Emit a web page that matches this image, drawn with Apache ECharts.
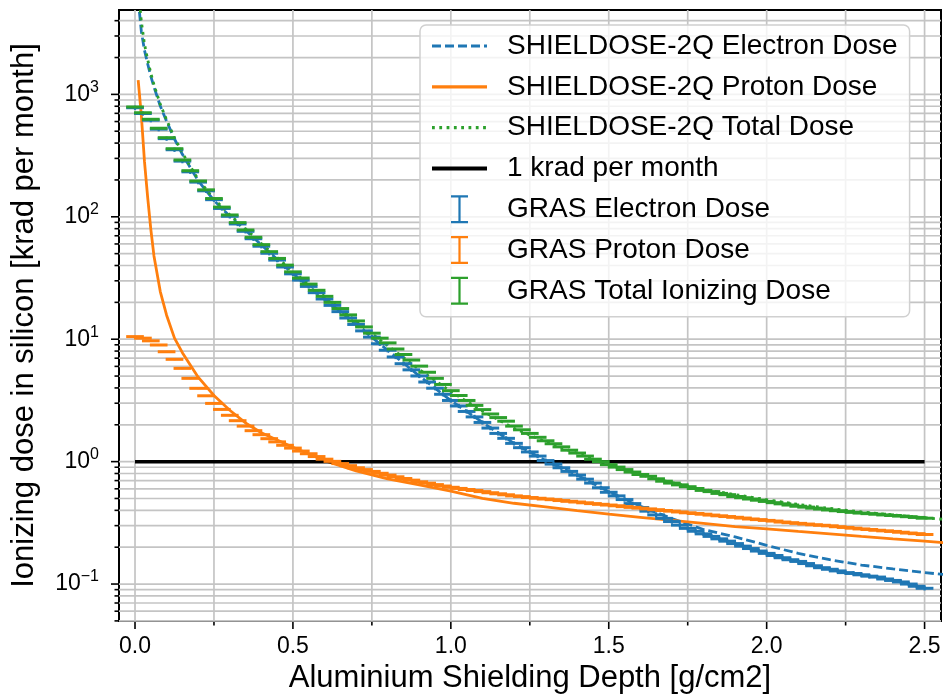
<!DOCTYPE html>
<html>
<head>
<meta charset="utf-8">
<title>Ionizing dose vs aluminium shielding</title>
<script src="https://cdn.jsdelivr.net/npm/echarts@6.0.0/dist/echarts.min.js"></script>
<style>
html, body { margin: 0; padding: 0; background: #fff; }
#main { width: 945px; height: 696px; }
</style>
</head>
<body>
<div id="main"></div>
<script>
// SHIELDOSE-2Q curves [g/cm2] -> [krad per month]
var sdDepth = [0.01, 0.02, 0.03, 0.04, 0.05, 0.06, 0.08, 0.1, 0.125, 0.15, 0.2, 0.25, 0.3, 0.35, 0.4,
  0.5, 0.6, 0.7, 0.8, 0.9, 1.0, 1.1, 1.2, 1.3, 1.4, 1.5, 1.6, 1.7, 1.8, 1.9, 2.0, 2.1, 2.2, 2.3, 2.4, 2.5, 2.6];
var sdElectron = [6030, 3270, 2290, 1780, 1410, 1150, 804, 603, 432, 324, 197, 136, 101, 77.6, 58.9,
  34.3, 21.4, 13.2, 8.13, 5.01, 3.16, 2.09, 1.41, 1.02, 0.776, 0.569, 0.432, 0.343, 0.279, 0.243, 0.207,
  0.178, 0.158, 0.143, 0.133, 0.124, 0.117];
var sdProton = [1310, 676, 282, 145, 79.4, 47.9, 24.5, 15.7, 10.2, 7.76, 4.90, 3.47, 2.63, 2.07, 1.72,
  1.31, 1.02, 0.841, 0.724, 0.646, 0.575, 0.501, 0.457, 0.427, 0.398, 0.372, 0.351, 0.331, 0.313, 0.295,
  0.282, 0.269, 0.257, 0.245, 0.234, 0.224, 0.214];
var sdTotal = [7340, 3950, 2570, 1930, 1490, 1200, 829, 619, 442, 332, 202, 140, 104, 79.7, 60.6,
  35.6, 22.4, 14.0, 8.85, 5.66, 3.74, 2.59, 1.87, 1.45, 1.17, 0.941, 0.783, 0.674, 0.592, 0.538, 0.489,
  0.447, 0.415, 0.388, 0.367, 0.348, 0.331];

// GRAS histogram bins
var grasDepth = [
  0.000, 0.025, 0.050, 0.075, 0.100, 0.125, 0.150, 0.175, 0.200, 0.225,
  0.250, 0.275, 0.300, 0.325, 0.350, 0.375, 0.400, 0.425, 0.450, 0.475,
  0.500, 0.525, 0.550, 0.575, 0.600, 0.625, 0.650, 0.675, 0.700, 0.725,
  0.750, 0.775, 0.800, 0.825, 0.850, 0.875, 0.900, 0.925, 0.950, 0.975,
  1.000, 1.025, 1.050, 1.075, 1.100, 1.125, 1.150, 1.175, 1.200, 1.225,
  1.250, 1.275, 1.300, 1.325, 1.350, 1.375, 1.400, 1.425, 1.450, 1.475,
  1.500, 1.525, 1.550, 1.575, 1.600, 1.625, 1.650, 1.675, 1.700, 1.725,
  1.750, 1.775, 1.800, 1.825, 1.850, 1.875, 1.900, 1.925, 1.950, 1.975,
  2.000, 2.025, 2.050, 2.075, 2.100, 2.125, 2.150, 2.175, 2.200, 2.225,
  2.250, 2.275, 2.300, 2.325, 2.350, 2.375, 2.400, 2.425, 2.450, 2.475,
  2.500];
var grasElectron = [
  778, 698, 616, 520, 435, 353, 285, 233, 192, 163,
  138, 117, 101, 87.4, 76.1, 66.2, 57.5, 50.4, 44.3, 38.9,
  34.2, 30.4, 27.0, 24.0, 21.3, 18.9, 16.8, 14.9, 13.2, 11.7,
  10.4, 9.18, 8.13, 7.16, 6.31, 5.62, 5.01, 4.47, 3.98, 3.55,
  3.16, 2.85, 2.57, 2.32, 2.09, 1.88, 1.70, 1.55, 1.41, 1.30,
  1.20, 1.11, 1.02, 0.955, 0.891, 0.832, 0.776, 0.719, 0.668, 0.612,
  0.562, 0.525, 0.490, 0.454, 0.422, 0.394, 0.367, 0.344, 0.324, 0.303,
  0.285, 0.270, 0.257, 0.245, 0.234, 0.224, 0.214, 0.204, 0.195, 0.186,
  0.178, 0.171, 0.164, 0.158, 0.153, 0.147, 0.141, 0.136, 0.132, 0.128,
  0.124, 0.122, 0.119, 0.116, 0.114, 0.110, 0.107, 0.104, 0.100, 0.0959,
  0.0923];
var grasProton = [
  10.5, 10.2, 9.7, 8.97, 7.9, 6.85, 5.78, 4.79, 3.97, 3.45,
  2.99, 2.67, 2.39, 2.16, 1.95, 1.79, 1.66, 1.54, 1.45, 1.36,
  1.29, 1.22, 1.16, 1.10, 1.047, 1.005, 0.964, 0.927, 0.891, 0.861,
  0.832, 0.803, 0.776, 0.752, 0.728, 0.706, 0.684, 0.667, 0.649, 0.632,
  0.617, 0.604, 0.592, 0.581, 0.569, 0.557, 0.546, 0.536, 0.525, 0.518,
  0.509, 0.502, 0.495, 0.489, 0.481, 0.474, 0.468, 0.461, 0.454, 0.448,
  0.442, 0.436, 0.429, 0.423, 0.417, 0.411, 0.405, 0.399, 0.394, 0.388,
  0.382, 0.377, 0.372, 0.366, 0.361, 0.356, 0.351, 0.346, 0.340, 0.336,
  0.331, 0.327, 0.321, 0.317, 0.313, 0.309, 0.305, 0.302, 0.299, 0.294,
  0.290, 0.286, 0.282, 0.279, 0.275, 0.272, 0.269, 0.265, 0.261, 0.258,
  0.254];
var grasTotal = [
  789, 708, 626, 529, 443, 360, 291, 238, 196, 166,
  141, 120, 103.5, 89.6, 78, 68, 59.2, 51.9, 45.7, 40.3,
  35.5, 31.6, 28.2, 25.1, 22.4, 20.0, 17.8, 15.8, 14.1, 12.6,
  11.2, 10.2, 9.33, 8.32, 7.50, 6.76, 6.03, 5.37, 4.79, 4.27,
  3.80, 3.47, 3.16, 2.88, 2.66, 2.45, 2.29, 2.14, 1.95, 1.82,
  1.70, 1.58, 1.48, 1.40, 1.32, 1.24, 1.175, 1.11, 1.047, 1.0,
  0.944, 0.902, 0.861, 0.822, 0.785, 0.759, 0.724, 0.692, 0.668, 0.646,
  0.624, 0.603, 0.582, 0.569, 0.550, 0.537, 0.519, 0.507, 0.495, 0.484,
  0.473, 0.462, 0.452, 0.442, 0.432, 0.425, 0.417, 0.410, 0.403, 0.397,
  0.391, 0.385, 0.380, 0.376, 0.372, 0.367, 0.363, 0.359, 0.355, 0.350,
  0.345];
var grasXErr = 0.028;          // half bin width
var grasElectronRelErr = 0.04;
var grasProtonRelErr = 0.015;
var grasTotalRelErr = 0.012;

var limitDepth = [0, 2.5];
var limitDose = [1, 1];

// axis ticks
var xMajorTicks = [0, 0.5, 1.0, 1.5, 2.0, 2.5];
var xMinorTicks = [0.25, 0.75, 1.25, 1.75, 2.25];
var yMajorTicks = [0.1, 1, 10, 100, 1000];
var yMinorTicks = [0.05, 0.06, 0.07, 0.08, 0.09, 0.2, 0.3, 0.4, 0.5, 0.6, 0.7, 0.8, 0.9,
  2, 3, 4, 5, 6, 7, 8, 9, 20, 30, 40, 50, 60, 70, 80, 90,
  200, 300, 400, 500, 600, 700, 800, 900, 2000, 3000, 4000];

var X_MIN = -0.0507, X_MAX = 2.552;
var Y_MIN = 0.0499, Y_MAX = 4890;
var FONT = 'Liberation Sans, Arial, sans-serif';
var C_BLUE = '#1f77b4', C_ORANGE = '#ff7f0e', C_GREEN = '#2ca02c';

function zip(a, b) {
  var out = [];
  for (var i = 0; i < a.length; i++) out.push([a[i], b[i]]);
  return out;
}

// decorations: grid lines + ticks (kind 0 x major, 1 x minor, 2 y major, 3 y minor)
var decorData = [];
xMajorTicks.forEach(function (v) { decorData.push([v, 1, 0]); });
xMinorTicks.forEach(function (v) { decorData.push([v, 1, 1]); });
yMajorTicks.forEach(function (v) { decorData.push([1, v, 2]); });
yMinorTicks.forEach(function (v) { decorData.push([1, v, 3]); });

function renderDecor(params, api) {
  var cs = params.coordSys;
  var kind = api.value(2);
  var grid = { stroke: '#c4c4c4', lineWidth: 1.7 };
  var tick = { stroke: '#000', lineWidth: 1.6 };
  var len = (kind === 0 || kind === 2) ? 8 : 4.5;
  if (kind < 2) {
    var px = api.coord([api.value(0), 1])[0];
    var yb = cs.y + cs.height;
    return { type: 'group', children: [
      { type: 'line', shape: { x1: px, y1: cs.y, x2: px, y2: yb }, style: grid },
      { type: 'line', shape: { x1: px, y1: yb, x2: px, y2: yb + len }, style: tick }
    ]};
  }
  var py = api.coord([1, api.value(1)])[1];
  return { type: 'group', children: [
    { type: 'line', shape: { x1: cs.x, y1: py, x2: cs.x + cs.width, y2: py }, style: grid },
    { type: 'line', shape: { x1: cs.x - len, y1: py, x2: cs.x, y2: py }, style: tick }
  ]};
}

function grasRender(relErr) {
  return function (params, api) {
    var x = api.value(0), y = api.value(1);
    var a = api.coord([x - grasXErr, y]);
    var b = api.coord([x + grasXErr, y]);
    var c = api.coord([x, y * (1 + relErr)]);
    var d = api.coord([x, y * (1 - relErr)]);
    var color = api.visual('color');
    return { type: 'group', children: [
      { type: 'line', shape: { x1: a[0], y1: a[1], x2: b[0], y2: b[1] }, style: { stroke: color, lineWidth: 3 } },
      { type: 'line', shape: { x1: c[0], y1: c[1], x2: d[0], y2: d[1] }, style: { stroke: color, lineWidth: 2.2 } }
    ]};
  };
}

var ibeam = 'path://M0,0h17v2.2h-7.4v23.6h7.4v2.2h-17v-2.2h7.4v-23.6h-7.4z';
var noSymbol = { opacity: 0 };

var chart = echarts.init(document.getElementById('main'), null, { renderer: 'canvas' });

var option = {
  animation: false,
  backgroundColor: '#fff',
  grid: { left: 119, right: 4, top: 10, bottom: 75, outerBoundsMode: 'none',
          show: true, borderColor: '#000', borderWidth: 2, backgroundColor: 'transparent' },
  legend: {
    orient: 'vertical',
    left: 420,
    top: 25,
    padding: [7, 12, 12, 10],
    itemWidth: 55,
    itemHeight: 28,
    itemGap: 12.8,
    backgroundColor: 'rgba(255,255,255,0.8)',
    borderColor: '#d0d0d0',
    borderWidth: 1.5,
    borderRadius: 6,
    textStyle: { fontFamily: FONT, fontSize: 28, color: '#000', lineHeight: 28, padding: [0, 0, 0, 15] },
    data: [
      { name: 'SHIELDOSE-2Q Electron Dose', itemStyle: noSymbol, lineStyle: { width: 3.2 } },
      { name: 'SHIELDOSE-2Q Proton Dose', itemStyle: noSymbol, lineStyle: { width: 3.2 } },
      { name: 'SHIELDOSE-2Q Total Dose', itemStyle: noSymbol, lineStyle: { width: 3.2 } },
      { name: '1 krad per month', itemStyle: noSymbol, lineStyle: { width: 4 } },
      { name: 'GRAS Electron Dose', icon: ibeam },
      { name: 'GRAS Proton Dose', icon: ibeam },
      { name: 'GRAS Total Ionizing Dose', icon: ibeam }
    ]
  },
  xAxis: {
    type: 'value',
    min: X_MIN,
    max: X_MAX,
    splitNumber: 5,
    name: 'Aluminium Shielding Depth [g/cm2]',
    nameLocation: 'middle',
    nameGap: 42,
    nameTextStyle: { fontFamily: FONT, fontSize: 31, color: '#000' },
    axisLine: { show: false },
    axisTick: { show: false },
    splitLine: { show: false },
    axisLabel: {
      margin: 14, fontFamily: FONT, fontSize: 23, color: '#000',
      formatter: function (v) {
        var r = Math.round(v * 2) / 2;
        return Math.abs(v - r) < 1e-6 ? r.toFixed(1) : '';
      }
    }
  },
  yAxis: {
    type: 'log',
    logBase: 10,
    min: Y_MIN,
    max: Y_MAX,
    name: 'Ionizing dose in silicon [krad per month]',
    nameLocation: 'middle',
    nameGap: 79,
    nameTextStyle: { fontFamily: FONT, fontSize: 31, color: '#000' },
    axisLine: { show: false },
    axisTick: { show: false },
    splitLine: { show: false },
    axisLabel: {
      margin: 20,
      formatter: function (v) {
        var e = Math.log(v) / Math.LN10;
        var r = Math.round(e);
        if (Math.abs(e - r) > 0.01) return '';
        return '{b|10}{s|' + (r < 0 ? '\u2212' + (-r) : r) + '}';
      },
      rich: {
        b: { fontFamily: FONT, fontSize: 23, color: '#000', lineHeight: 30 },
        s: { fontFamily: FONT, fontSize: 16, color: '#000', lineHeight: 16, verticalAlign: 'top' }
      }
    }
  },
  series: [
    { name: 'decor', type: 'custom', z: 1, silent: true, renderItem: renderDecor, data: decorData },
    { name: 'SHIELDOSE-2Q Electron Dose', type: 'line', z: 2, symbol: 'none', showSymbol: false,
      itemStyle: { color: C_BLUE },
      lineStyle: { color: C_BLUE, width: 2.8, type: [9, 4] }, data: zip(sdDepth, sdElectron) },
    { name: 'SHIELDOSE-2Q Proton Dose', type: 'line', z: 2, symbol: 'none', showSymbol: false,
      itemStyle: { color: C_ORANGE },
      lineStyle: { color: C_ORANGE, width: 2.8 }, data: zip(sdDepth, sdProton) },
    { name: 'SHIELDOSE-2Q Total Dose', type: 'line', z: 2, symbol: 'none', showSymbol: false,
      itemStyle: { color: C_GREEN },
      lineStyle: { color: C_GREEN, width: 2.8, type: [2.8, 4.5] }, data: zip(sdDepth, sdTotal) },
    { name: '1 krad per month', type: 'line', z: 2, symbol: 'none', showSymbol: false,
      itemStyle: { color: '#000' },
      lineStyle: { color: '#000', width: 3.5 }, data: zip(limitDepth, limitDose) },
    { name: 'GRAS Electron Dose', type: 'custom', z: 3, itemStyle: { color: C_BLUE },
      renderItem: grasRender(grasElectronRelErr), data: zip(grasDepth, grasElectron) },
    { name: 'GRAS Proton Dose', type: 'custom', z: 3, itemStyle: { color: C_ORANGE },
      renderItem: grasRender(grasProtonRelErr), data: zip(grasDepth, grasProton) },
    { name: 'GRAS Total Ionizing Dose', type: 'custom', z: 3, itemStyle: { color: C_GREEN },
      renderItem: grasRender(grasTotalRelErr), data: zip(grasDepth, grasTotal) }
  ]
};

chart.setOption(option);
</script>
</body>
</html>
